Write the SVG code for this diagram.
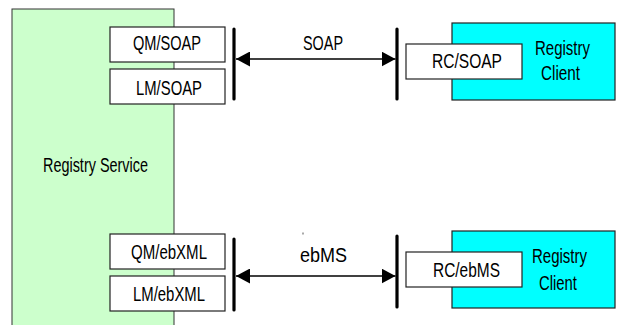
<svg xmlns="http://www.w3.org/2000/svg" width="623" height="325" viewBox="0 0 623 325">
  <defs>
    <style>
      text { font-family: "Liberation Sans", Arial, sans-serif; font-size: 20.5px; fill: #000; }
      .service { fill: #ccffcc; stroke: #333; stroke-width: 1; }
      .client { fill: #00ffff; stroke: #222; stroke-width: 1.2; }
      .port { fill: #fff; stroke: #222; stroke-width: 1.2; }
      .bar { stroke: #000; stroke-width: 3.2; stroke-linecap: round; }
      .link { stroke: #000; stroke-width: 1.4; fill: none; marker-start: url(#tipL); marker-end: url(#tipR); }
    </style>
    <marker id="tipR" viewBox="0 0 14 15" refX="14" refY="7.5" markerWidth="14" markerHeight="15" markerUnits="userSpaceOnUse" orient="auto">
      <path d="M0,0 L14,7.5 L0,15 Z" fill="#000"/>
    </marker>
    <marker id="tipL" viewBox="0 0 14 15" refX="0" refY="7.5" markerWidth="14" markerHeight="15" markerUnits="userSpaceOnUse" orient="auto">
      <path d="M14,0 L0,7.5 L14,15 Z" fill="#000"/>
    </marker>
  </defs>

  <!-- Registry Service with its four interface ports -->
  <g id="registry-service">
    <rect class="service" x="12" y="9" width="162" height="330"/>
    <text x="43" y="172" textLength="105" lengthAdjust="spacingAndGlyphs">Registry Service</text>
  </g>
  <g id="qm-soap">
    <rect class="port" x="110" y="27" width="115" height="35"/>
    <text x="133" y="50" textLength="68" lengthAdjust="spacingAndGlyphs">QM/SOAP</text>
  </g>
  <g id="lm-soap">
    <rect class="port" x="110" y="69" width="115" height="35"/>
    <text x="136" y="95" textLength="66" lengthAdjust="spacingAndGlyphs">LM/SOAP</text>
  </g>
  <g id="qm-ebxml">
    <rect class="port" x="110" y="234" width="115" height="35"/>
    <text x="131" y="259" textLength="76" lengthAdjust="spacingAndGlyphs">QM/ebXML</text>
  </g>
  <g id="lm-ebxml">
    <rect class="port" x="110" y="276" width="115" height="35"/>
    <text x="133" y="301" textLength="72" lengthAdjust="spacingAndGlyphs">LM/ebXML</text>
  </g>

  <!-- SOAP client -->
  <g id="client-soap">
    <rect class="client" x="452" y="23" width="163" height="77"/>
    <text x="535" y="55" textLength="55" lengthAdjust="spacingAndGlyphs">Registry</text>
    <text x="541" y="80" textLength="39" lengthAdjust="spacingAndGlyphs">Client</text>
  </g>
  <g id="rc-soap">
    <rect class="port" x="406" y="44" width="116" height="35"/>
    <text x="432" y="68" textLength="70" lengthAdjust="spacingAndGlyphs">RC/SOAP</text>
  </g>

  <!-- ebMS client -->
  <g id="client-ebms">
    <rect class="client" x="452" y="231" width="163" height="77"/>
    <text x="532" y="263" textLength="55" lengthAdjust="spacingAndGlyphs">Registry</text>
    <text x="539" y="290" textLength="38" lengthAdjust="spacingAndGlyphs">Client</text>
  </g>
  <g id="rc-ebms">
    <rect class="port" x="406" y="252" width="116" height="35"/>
    <text x="433" y="277" textLength="67" lengthAdjust="spacingAndGlyphs">RC/ebMS</text>
  </g>

  <!-- Protocol links between the bars -->
  <g id="connectors">
    <line class="bar" x1="234" y1="29" x2="234" y2="99"/>
    <line class="bar" x1="397" y1="29" x2="397" y2="99"/>
    <line class="link" x1="236" y1="59" x2="395.5" y2="59"/>
    <text x="303" y="50" textLength="40" lengthAdjust="spacingAndGlyphs">SOAP</text>

    <line class="bar" x1="234" y1="239" x2="234" y2="310"/>
    <line class="bar" x1="397" y1="236" x2="397" y2="307"/>
    <line class="link" x1="236" y1="276" x2="395.5" y2="276"/>
    <text x="300" y="262" textLength="47" lengthAdjust="spacingAndGlyphs">ebMS</text>
    <rect x="302.5" y="232.5" width="1" height="2" fill="#555"/>
  </g>
</svg>
